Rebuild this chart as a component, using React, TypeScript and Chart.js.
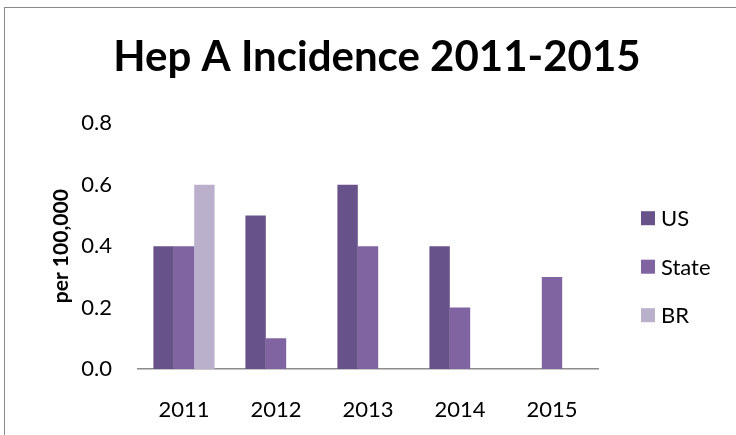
import React, { useEffect, useRef } from "react";
import { Chart, registerables } from "chart.js";

Chart.register(...registerables);

const categories = ["2011", "2012", "2013", "2014", "2015"];
const usValues = [0.4, 0.5, 0.6, 0.4, null];
const stateValues = [0.4, 0.1, 0.4, 0.2, 0.3];
const brValues = [0.6, null, null, null, null];
const seriesNames = ["US", "State", "BR"];
const seriesColors = ["#68528A", "#8064A2", "#BAB0CC"];
const yMin = 0;
const yMax = 0.8;
const yStep = 0.2;
const chartTitle = "Hep A Incidence 2011-2015";
const yAxisTitle = "per 100,000";

const FONT = "Lato, 'Open Sans', sans-serif";

const legendPlugin = {
  id: "sideLegend",
  afterDraw(chart: any) {
    const { ctx, chartArea } = chart;
    const mid = (chartArea.top + chartArea.bottom) / 2;
    const spacing = 48.5;
    ctx.save();
    ctx.font = `22px ${FONT}`;
    ctx.textBaseline = "middle";
    ctx.textAlign = "left";
    chart.data.datasets.forEach((ds: any, i: number) => {
      const cy = mid + 20.5 + (i - 1) * spacing;
      const bx = chartArea.right + 43;
      ctx.fillStyle = ds.backgroundColor;
      ctx.fillRect(bx, cy - 7, 14, 14);
      ctx.fillStyle = "#000";
      ctx.fillText(ds.label, bx + 20, cy + 1);
    });
    ctx.restore();
  },
};

export default function App() {
  const canvasRef = useRef<HTMLCanvasElement | null>(null);

  useEffect(() => {
    if (!canvasRef.current) return;
    const seriesValues = [usValues, stateValues, brValues];
    const chart = new Chart(canvasRef.current, {
      type: "bar",
      data: {
        labels: categories,
        datasets: seriesNames.map((name, i) => ({
          label: name,
          data: seriesValues[i],
          backgroundColor: seriesColors[i],
          borderWidth: 0,
          categoryPercentage: 0.665,
          barPercentage: 1,
          yAxisID: "y",
        })),
      },
      options: {
        animation: false,
        responsive: false,
        maintainAspectRatio: false,
        layout: { padding: { left: 18, right: 0, top: 0, bottom: 0 } },
        plugins: {
          legend: { display: false },
          tooltip: { enabled: false },
          title: {
            display: true,
            text: chartTitle,
            color: "#000",
            font: { family: FONT, size: 42, weight: "bold" },
            padding: { top: 32, bottom: 41 },
          },
        },
        scales: {
          x: {
            grid: { display: false, drawTicks: false },
            border: { display: true, color: "#8C8C8C", width: 1.5 },
            ticks: {
              color: "#000",
              font: { family: FONT, size: 22 },
              padding: 28,
            },
            afterFit(scale: any) {
              scale.height = 66;
            },
          },
          y: {
            min: yMin,
            max: yMax,
            grid: { display: false, drawTicks: false },
            border: { display: false },
            ticks: {
              stepSize: yStep,
              color: "#000",
              font: { family: FONT, size: 22 },
              padding: 26,
              callback: (v: any) => Number(v).toFixed(1),
            },
            title: {
              display: true,
              text: yAxisTitle,
              color: "#000",
              font: { family: FONT, size: 21, weight: "bold" },
              padding: { top: 31, bottom: 0 },
            },
            afterFit(scale: any) {
              scale.width = 120;
            },
          },
          legendSpace: {
            type: "linear",
            position: "right",
            display: true,
            grid: { display: false, drawTicks: false },
            border: { display: false },
            ticks: { display: false },
            afterFit(scale: any) {
              scale.width = 138;
            },
          },
        },
      },
      plugins: [legendPlugin],
    });
    return () => chart.destroy();
  }, []);

  return (
    <div style={{ position: "fixed", left: 0, top: 0, width: 736, height: 435, overflow: "hidden", background: "#fff" }}>
      <div
        style={{
          position: "absolute",
          left: 4,
          top: 7,
          width: 800,
          height: 500,
          borderLeft: "1px solid #8A8A8A",
          borderTop: "1px solid #8A8A8A",
        }}
      />
      <canvas ref={canvasRef} width={736} height={435} style={{ position: "absolute", left: 0, top: 0, width: 736, height: 435 }} />
    </div>
  );
}
